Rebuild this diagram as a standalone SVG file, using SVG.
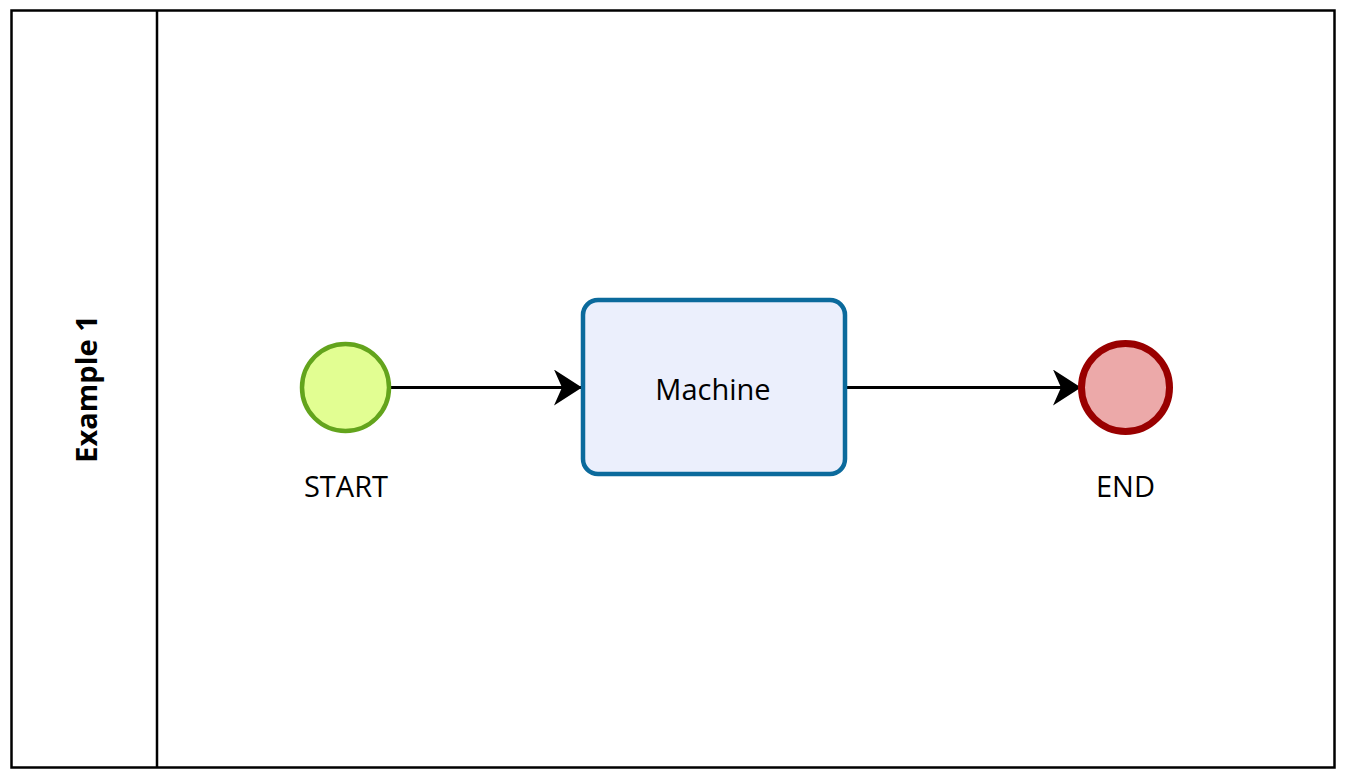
<svg xmlns="http://www.w3.org/2000/svg" width="1348" height="780" viewBox="0 0 1348 780">
<style>
text{font-family:"Open Sans","Noto Sans","Liberation Sans",sans-serif;fill:#000}
.lbl{font-size:29px;text-anchor:middle}
.edge{stroke:#000;stroke-width:3;fill:none}
</style>
<defs>
<marker id="ah" markerUnits="userSpaceOnUse" markerWidth="30" markerHeight="36" refX="28" refY="18" orient="auto">
<path d="M0,0 L28,18 L0,36 L8,18 Z" fill="#000"/>
</marker>
</defs>
<rect width="1348" height="780" fill="#fff"/>
<g id="pool">
<rect x="11.5" y="10.5" width="1323" height="757" fill="#fff" stroke="#000" stroke-width="2.5"/>
<line x1="157" y1="10.5" x2="157" y2="767.5" stroke="#000" stroke-width="2.5"/>
<text transform="translate(97,389) rotate(-90)" text-anchor="middle" font-size="29" font-weight="bold">Example 1</text>
</g>
<g id="connectors">
<line class="edge" x1="390" y1="387.5" x2="582" y2="387.5" marker-end="url(#ah)"/>
<line class="edge" x1="846" y1="387.5" x2="1081" y2="387.5" marker-end="url(#ah)"/>
</g>
<g id="start">
<circle cx="345.5" cy="387.5" r="43.5" fill="#e2fe92" stroke="#63a41c" stroke-width="4.5"/>
<text class="lbl" x="346" y="497">START</text>
</g>
<g id="machine">
<rect x="583" y="300" width="262" height="174" rx="15" fill="#ebeffc" stroke="#0b6a9c" stroke-width="4.5"/>
<text class="lbl" x="713" y="400">Machine</text>
</g>
<g id="end">
<circle cx="1125.5" cy="387.5" r="44" fill="#eca9a9" stroke="#990000" stroke-width="7"/>
<text class="lbl" x="1125.5" y="497">END</text>
</g>
</svg>
